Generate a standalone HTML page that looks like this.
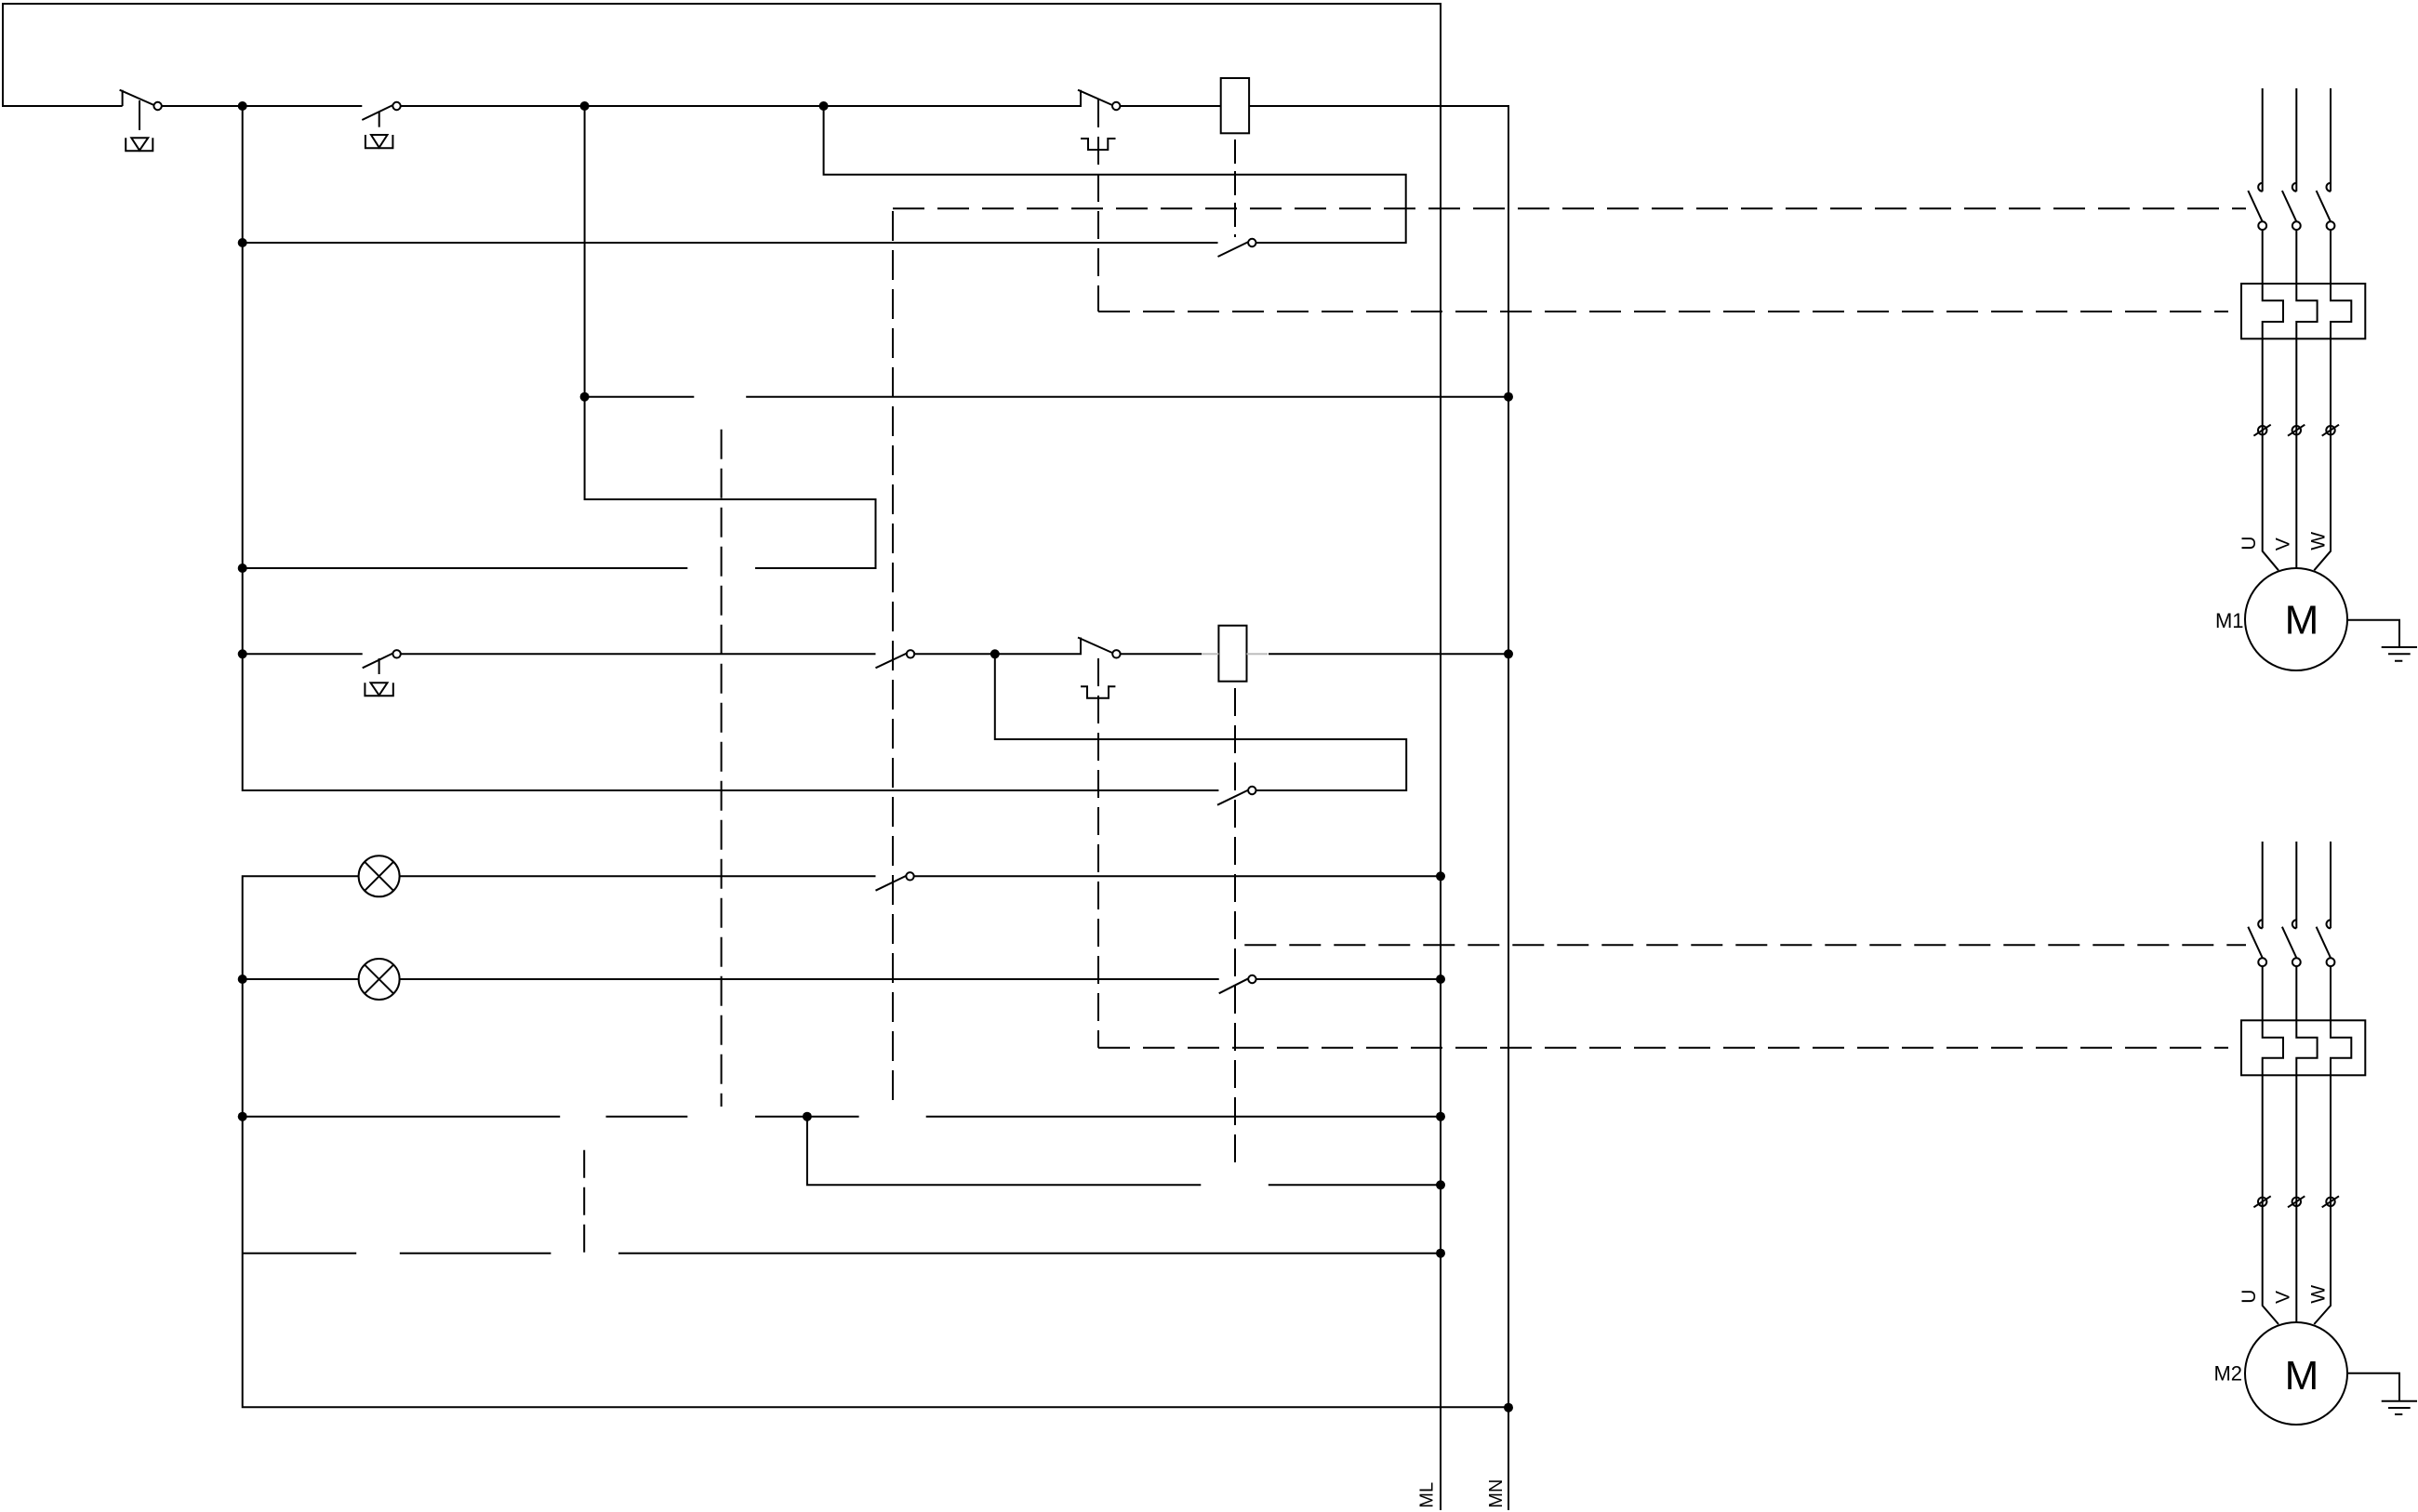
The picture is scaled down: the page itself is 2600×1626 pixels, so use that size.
<!DOCTYPE html>
<html>
<head>
<meta charset="utf-8">
<style>
html,body{margin:0;padding:0;background:#fff;overflow:hidden;}
svg{display:block;}
text{font-family:"Liberation Sans", Arial, sans-serif;fill:#000;stroke:none;}
</style>
</head>
<body>
<svg xmlns="http://www.w3.org/2000/svg" width="2600" height="1626" viewBox="0 0 2600 1626">
<rect x="0" y="0" width="2600" height="1626" fill="#fff"/>

<!-- ===== Solid wiring ===== -->
<g stroke="#000" stroke-width="2" fill="none" stroke-linejoin="miter">
  <!-- top loop + ML bus -->
  <path d="M131.6,114 H3 V4 H1549 V1624"/>
  <!-- NC pushbutton 1 -->
  <path d="M131.6,114 V96.7 M128.6,96.7 L165.5,113"/>
  <!-- row 114 -->
  <path d="M173.8,114 H389.3"/>
  <path d="M389.3,129 L422.5,113"/>
  <path d="M430.7,114 H1162 V96.7 M1159,96.7 L1196,113"/>
  <path d="M1204.4,114 H1312.7"/>
  <rect x="1312.7" y="84" width="30.4" height="59.3"/>
  <path d="M1343.1,114 H1622 V1624"/>

  <!-- pushbutton actuators -->
  <path d="M150,108 V140"/>
  <path d="M135.2,148.3 V162.3 H164.3 V148.3"/>
  <path d="M141.3,148.3 H159.2 L150,161.7 Z"/>
  <path d="M407.7,120 V136.7"/>
  <path d="M392.9,145 V159.3 H422.4 V145"/>
  <path d="M399,145 H416.5 L407.7,158.7 Z"/>

  <!-- thermal symbol 1 -->
  <path d="M1162,149 H1170 V161 H1191.3 V149 H1199.5"/>

  <!-- left vertical upper -->
  <path d="M260.7,114 V850 H1310.4"/>
  <!-- branch from 628.6 -->
  <path d="M628.6,114 V537 H941.5 V611 H812"/>
  <path d="M628.6,426.7 H746.3 M802.2,426.7 H1622"/>
  <path d="M260.7,611 H739.3"/>
  <!-- row 261 -->
  <path d="M260.7,261 H1309.5"/>
  <path d="M1309.5,276 L1342.5,260"/>
  <path d="M1350.5,261 H1511.7 V187.7 H885.6 V114"/>

  <!-- row 703 -->
  <path d="M260.7,703.3 H389.7"/>
  <path d="M389.7,718.3 L422.5,702.5"/>
  <path d="M430.8,703.3 H941.5"/>
  <path d="M941.5,718.3 L975,702.5"/>
  <path d="M983.2,703.3 H1162 V685.5 M1159,685.5 L1196,702"/>
  <path d="M1204.6,703.3 H1292"/>
  <rect x="1310.4" y="672.7" width="30.1" height="60"/>
  <path d="M1364,703.3 H1622"/>
  <!-- pushbutton 3 -->
  <path d="M407.6,708 V725"/>
  <path d="M392.4,734.3 V748.3 H422.8 V734.3"/>
  <path d="M398.5,734.3 H416.5 L407.6,747.7 Z"/>
  <!-- thermal symbol 2 -->
  <path d="M1162,738.3 H1169 V750.7 H1192 V738.3 H1199.4"/>
  <!-- self-hold loop 2 -->
  <path d="M1069.8,703.3 V795 H1512.2 V850 H1350.5"/>
  <path d="M1309,865.7 L1342.4,849.5"/>

  <!-- left vertical lower + lamp rows -->
  <path d="M385.6,942.3 H260.7 V1513.3 H1622"/>
  <path d="M429.6,942.3 H941.5"/>
  <path d="M941.5,957.7 L975,941.5"/>
  <path d="M982.7,942.3 H1549"/>
  <path d="M260.7,1053 H385.6 M429.6,1053 H1310.7"/>
  <path d="M1310.7,1068.3 L1342.5,1052.2"/>
  <path d="M1350.6,1053 H1549"/>
  <!-- lamps -->
  <circle cx="407.6" cy="942.3" r="22"/>
  <path d="M392,926.7 L423.2,957.9 M423.2,926.7 L392,957.9"/>
  <circle cx="407.6" cy="1053" r="22"/>
  <path d="M392,1037.4 L423.2,1068.6 M423.2,1037.4 L392,1068.6"/>

  <!-- row 1200 -->
  <path d="M260.7,1200.7 H602.2 M651.5,1200.7 H739.3 M812,1200.7 H923.6 M995.7,1200.7 H1549"/>
  <path d="M867.9,1200.7 V1274.3 H1291.3 M1363.8,1274.3 H1549"/>
  <!-- row 1347 -->
  <path d="M260.7,1347.7 H383.2 M429.8,1347.7 H592.4 M665,1347.7 H1549"/>
</g>

<!-- faint coil leads -->
<g stroke="#bdbdbd" stroke-width="2" fill="none">
  <path d="M1292,703.3 H1310.4 M1340.5,703.3 H1363"/>
</g>

<!-- contact circles -->
<g stroke="#000" stroke-width="2" fill="#fff">
  <circle cx="169.6" cy="114" r="4.2"/>
  <circle cx="426.5" cy="114" r="4.2"/>
  <circle cx="1200.2" cy="114" r="4.2"/>
  <circle cx="1346.3" cy="261" r="4.2"/>
  <circle cx="426.6" cy="703.3" r="4.2"/>
  <circle cx="979" cy="703.3" r="4.2"/>
  <circle cx="1200.4" cy="703.3" r="4.2"/>
  <circle cx="1346.3" cy="850" r="4.2"/>
  <circle cx="978.5" cy="942.3" r="4.2"/>
  <circle cx="1346.4" cy="1053" r="4.2"/>
</g>

<!-- junction dots -->
<g fill="#000" stroke="none">
  <circle cx="260.7" cy="114" r="5"/>
  <circle cx="628.6" cy="114" r="5"/>
  <circle cx="885.6" cy="114" r="5"/>
  <circle cx="260.7" cy="261" r="5"/>
  <circle cx="628.6" cy="426.7" r="5"/>
  <circle cx="1622" cy="426.7" r="5"/>
  <circle cx="260.7" cy="611" r="5"/>
  <circle cx="260.7" cy="703.3" r="5"/>
  <circle cx="1069.8" cy="703.3" r="5"/>
  <circle cx="1622" cy="703.3" r="5"/>
  <circle cx="1549" cy="942.3" r="5"/>
  <circle cx="260.7" cy="1053" r="5"/>
  <circle cx="1549" cy="1053" r="5"/>
  <circle cx="260.7" cy="1200.7" r="5"/>
  <circle cx="867.9" cy="1200.7" r="5"/>
  <circle cx="1549" cy="1200.7" r="5"/>
  <circle cx="1549" cy="1274.3" r="5"/>
  <circle cx="1549" cy="1347.7" r="5"/>
  <circle cx="1622" cy="1513.7" r="5"/>
</g>

<!-- ===== Dashed mechanical links ===== -->
<g stroke="#000" stroke-width="2" fill="none">
  <path d="M775.6,461.7 V1190" stroke-dasharray="32 10"/>
  <path d="M960,1183 V224.3" stroke-dasharray="32 10"/>
  <path d="M960,224.3 H2415" stroke-dasharray="34 14"/>
  <path d="M1181,107 V335" stroke-dasharray="30 10"/>
  <path d="M1181,335 H2396" stroke-dasharray="34 14"/>
  <path d="M1328,150 V255" stroke-dasharray="26 8"/>
  <path d="M1181,708 V1126.7" stroke-dasharray="30 10"/>
  <path d="M1181,1126.7 H2396" stroke-dasharray="34 14"/>
  <path d="M1328,740 V1251.7" stroke-dasharray="30 10"/>
  <path d="M1338.3,1016.3 H2415" stroke-dasharray="34 14"/>
  <path d="M628.2,1236.7 V1348" stroke-dasharray="30 10"/>
</g>

<!-- ===== Motor 1 ===== -->
<g stroke="#000" stroke-width="2" fill="none">
  <!-- phase U -->
  <path d="M2432.7,95 V205.7 M2432.7,196.7 A4.5,4.5 0 0 0 2432.7,205.7 M2417.3,205 L2432.7,238.3"/>
  <path d="M2432.7,247.1 V323.3 H2455 V346 H2432.7 V592.7 L2450,613.3"/>
  <!-- phase V -->
  <path d="M2469.3,95 V205.7 M2469.3,196.7 A4.5,4.5 0 0 0 2469.3,205.7 M2453.9,205 L2469.3,238.3"/>
  <path d="M2469.3,247.1 V323.3 H2491.6 V346 H2469.3 V610.7"/>
  <!-- phase W -->
  <path d="M2506,95 V205.7 M2506,196.7 A4.5,4.5 0 0 0 2506,205.7 M2490.6,205 L2506,238.3"/>
  <path d="M2506,247.1 V323.3 H2528.3 V346 H2506 V592.7 L2488.3,613.3"/>
  <rect x="2410" y="305" width="133.3" height="59.3"/>
  <!-- terminals -->
  <circle cx="2432.7" cy="462.7" r="4.7"/>
  <circle cx="2469.3" cy="462.7" r="4.7"/>
  <circle cx="2506" cy="462.7" r="4.7"/>
  <path d="M2423.4,468.7 L2441.7,456.7 M2460,468.7 L2478.3,456.7 M2496.7,468.7 L2515,456.7"/>
  <circle cx="2469" cy="666" r="55"/>
  <path d="M2524,666.7 H2580 V696 M2560.7,696 H2599 M2568,703.3 H2591.7 M2575,710.7 H2583.3"/>
</g>
<g stroke="#000" stroke-width="2" fill="#fff">
  <circle cx="2432.7" cy="242.7" r="4.4"/>
  <circle cx="2469.3" cy="242.7" r="4.4"/>
  <circle cx="2506" cy="242.7" r="4.4"/>
</g>

<!-- ===== Motor 2 ===== -->
<g stroke="#000" stroke-width="2" fill="none">
  <path d="M2432.7,905 V998.3 M2432.7,989.3 A4.5,4.5 0 0 0 2432.7,998.3 M2417.3,996.7 L2432.7,1030"/>
  <path d="M2432.7,1039 V1115.7 H2455 V1137.7 H2432.7 V1404 L2450,1424"/>
  <path d="M2469.3,905 V998.3 M2469.3,989.3 A4.5,4.5 0 0 0 2469.3,998.3 M2453.9,996.7 L2469.3,1030"/>
  <path d="M2469.3,1039 V1115.7 H2491.6 V1137.7 H2469.3 V1421.7"/>
  <path d="M2506,905 V998.3 M2506,989.3 A4.5,4.5 0 0 0 2506,998.3 M2490.6,996.7 L2506,1030"/>
  <path d="M2506,1039 V1115.7 H2528.3 V1137.7 H2506 V1404 L2488.3,1424"/>
  <rect x="2410" y="1097.3" width="133.3" height="59"/>
  <circle cx="2432.7" cy="1292.3" r="4.7"/>
  <circle cx="2469.3" cy="1292.3" r="4.7"/>
  <circle cx="2506" cy="1292.3" r="4.7"/>
  <path d="M2423.4,1298.3 L2441.7,1286.3 M2460,1298.3 L2478.3,1286.3 M2496.7,1298.3 L2515,1286.3"/>
  <circle cx="2469" cy="1477" r="55"/>
  <path d="M2524,1476.7 H2580 V1506.7 M2560.7,1506.7 H2599 M2568,1514 H2591.7 M2575,1521 H2583.3"/>
</g>
<g stroke="#000" stroke-width="2" fill="#fff">
  <circle cx="2432.7" cy="1034.7" r="4.4"/>
  <circle cx="2469.3" cy="1034.7" r="4.4"/>
  <circle cx="2506" cy="1034.7" r="4.4"/>
</g>

<!-- ===== Labels ===== -->
<text x="2475" y="681.7" font-size="44" text-anchor="middle">M</text>
<text x="2475" y="1494" font-size="44" text-anchor="middle">M</text>
<text x="2412.5" y="675" font-size="22" text-anchor="end">M1</text>
<text x="2411" y="1484.3" font-size="22" text-anchor="end">M2</text>

<text transform="translate(2425,591.7) rotate(-90)" font-size="21">U</text>
<text transform="translate(2461.7,592.3) rotate(-90)" font-size="21">V</text>
<text transform="translate(2499.3,591.7) rotate(-90)" font-size="21">W</text>
<text transform="translate(2425,1401.7) rotate(-90)" font-size="21">U</text>
<text transform="translate(2461.7,1402) rotate(-90)" font-size="21">V</text>
<text transform="translate(2499.3,1401.7) rotate(-90)" font-size="21">W</text>

<text transform="translate(1540.7,1621.7) rotate(-90)" font-size="20">ML</text>
<text transform="translate(1615,1621.7) rotate(-90)" font-size="20">MN</text>
</svg>
</body>
</html>
